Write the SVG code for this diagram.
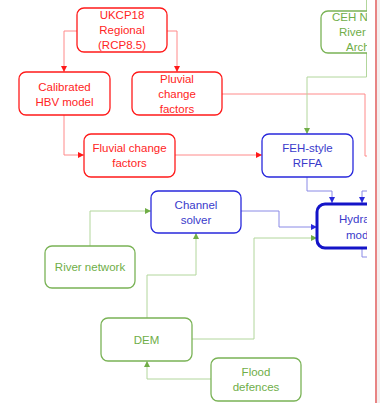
<svg xmlns="http://www.w3.org/2000/svg" width="380" height="403" viewBox="0 0 380 403">
<defs>
<style>
text{font-family:"Liberation Sans",Arial,sans-serif;font-size:11.5px;text-anchor:middle}
.r rect{fill:#fff;stroke:#ff1a1a;stroke-width:1.3}
.r text{fill:#ff2424}
.g rect{fill:#fff;stroke:#7ab356;stroke-width:1.3}
.g text{fill:#6fae48}
.b rect{fill:#fff;stroke:#2828dc;stroke-width:1.3}
.b text{fill:#3a3acb}
.lr{fill:none;stroke:#ff8a8a;stroke-width:1}
.lg{fill:none;stroke:#b2d69c;stroke-width:1}
.lb{fill:none;stroke:#8a8ae6;stroke-width:1}
</style>
<marker id="ar" viewBox="0 0 6 6" refX="6" refY="3" markerWidth="6" markerHeight="6" markerUnits="userSpaceOnUse" orient="auto"><path d="M0,0L6,3L0,6z" fill="#ff1a1a"/></marker>
<marker id="ag" viewBox="0 0 6 6" refX="6" refY="3" markerWidth="6" markerHeight="6" markerUnits="userSpaceOnUse" orient="auto"><path d="M0,0L6,3L0,6z" fill="#70ad47"/></marker>
<marker id="ab" viewBox="0 0 6 6" refX="6" refY="3" markerWidth="6" markerHeight="6" markerUnits="userSpaceOnUse" orient="auto"><path d="M0,0L6,3L0,6z" fill="#2828dc"/></marker>
<clipPath id="clip"><rect x="0" y="0" width="367" height="403"/></clipPath>
</defs>
<rect x="0" y="0" width="380" height="403" fill="#fff"/>
<rect x="377" y="0" width="3" height="403" fill="#f4eeee"/>
<rect x="375" y="0" width="2" height="403" fill="#e88484"/>
<g clip-path="url(#clip)">
<g id="connectors">
<path class="lr" d="M77,31H64V72" marker-end="url(#ar)"/>
<path class="lr" d="M167,31H177V72" marker-end="url(#ar)"/>
<path class="lr" d="M64,115V155H84" marker-end="url(#ar)"/>
<path class="lr" d="M175,155H262" marker-end="url(#ar)"/>
<path class="lr" d="M222,94H365V156H372"/>
<path class="lg" d="M366.5,0V11"/>
<path class="lg" d="M366.5,53V77H307V134" marker-end="url(#ag)"/>
<path class="lg" d="M90,246V211H151" marker-end="url(#ag)"/>
<path class="lg" d="M147,318V275H196V233" marker-end="url(#ag)"/>
<path class="lg" d="M192,339H254V238H317" marker-end="url(#ag)"/>
<path class="lg" d="M211,379H147V361" marker-end="url(#ag)"/>
<path class="lb" d="M307,177V191H332V203" marker-end="url(#ab)"/>
<path class="lb" d="M372,191H362V203" marker-end="url(#ab)"/>
<path class="lb" d="M241,211H279V227H317" marker-end="url(#ab)"/>
<path class="lb" d="M362,248V257H372"/>
</g>
<g id="ukcp18" class="r"><rect x="77" y="8" width="90" height="44" rx="7"/><text x="122" y="19">UKCP18</text><text x="122" y="34">Regional</text><text x="122" y="49">(RCP8.5)</text></g>
<g id="hbv" class="r"><rect x="19" y="72" width="91" height="43" rx="7"/><text x="64.5" y="91">Calibrated</text><text x="64.5" y="106">HBV model</text></g>
<g id="pluvial" class="r"><rect x="132" y="72" width="90" height="43" rx="7"/><text x="177" y="83">Pluvial</text><text x="177" y="98">change</text><text x="177" y="113">factors</text></g>
<g id="fluvial" class="r"><rect x="84" y="134" width="91" height="43" rx="7"/><text x="129.5" y="152">Fluvial change</text><text x="129.5" y="167">factors</text></g>
<g id="feh" class="b"><rect x="262" y="134" width="91" height="43" rx="7"/><text x="307.5" y="152">FEH-style</text><text x="307.5" y="167">RFFA</text></g>
<g id="ceh" class="g"><rect x="321" y="11" width="90" height="42" rx="7"/><text x="332" y="21" style="text-anchor:start">CEH Na</text><text x="339" y="36" style="text-anchor:start">River</text><text x="346" y="51" style="text-anchor:start">Arch</text></g>
<g id="channel" class="b"><rect x="151" y="191" width="90" height="42" rx="7"/><text x="196" y="209">Channel</text><text x="196" y="224">solver</text></g>
<g id="hydraulic" class="b"><rect x="317" y="204" width="90" height="44" rx="8" style="stroke:#1414c8;stroke-width:3"/><text x="339" y="223" style="text-anchor:start">Hydra</text><text x="346" y="239" style="text-anchor:start">mod</text></g>
<g id="river" class="g"><rect x="45" y="246" width="90" height="42" rx="7"/><text x="90" y="271">River network</text></g>
<g id="dem" class="g"><rect x="101" y="318" width="91" height="43" rx="7"/><text x="146.5" y="344">DEM</text></g>
<g id="flood" class="g"><rect x="211" y="358" width="90" height="43" rx="7"/><text x="256" y="376">Flood</text><text x="256" y="391">defences</text></g>
</g>
</svg>
